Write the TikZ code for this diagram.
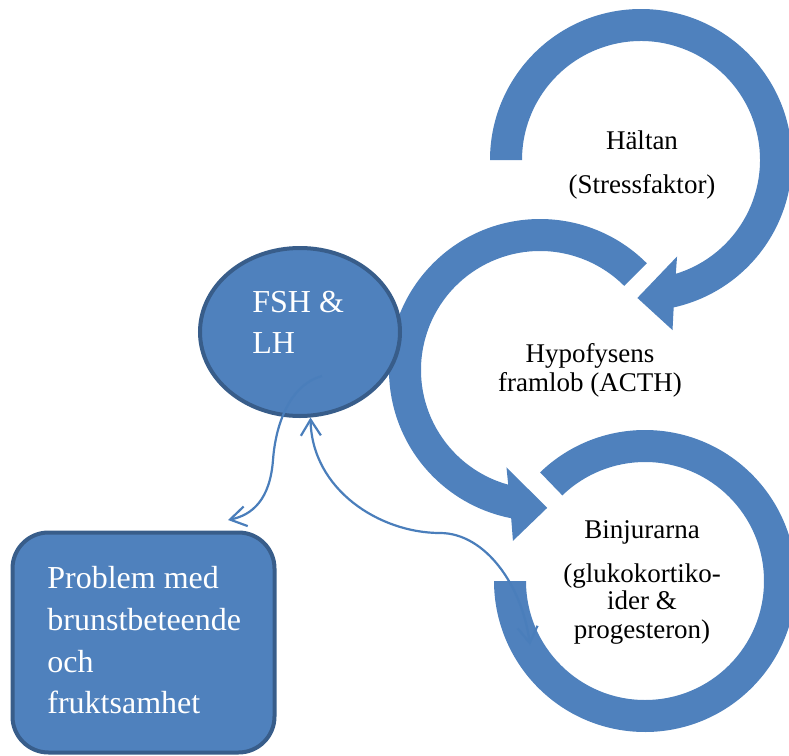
\documentclass[tikz,border=0pt]{standalone}
\usepackage{fontspec}
\setmainfont{Liberation Serif}
\usetikzlibrary{arrows.meta,shapes.geometric}
\definecolor{ringblue}{RGB}{79,129,189}
\definecolor{edgeblue}{RGB}{56,93,138}
\definecolor{linkblue}{RGB}{74,126,187}
\begin{document}
\begin{tikzpicture}[x=0.5pt,y=0.5pt,
    ring/.style={fill=ringblue},
    ringtext/.style={anchor=base,inner sep=0pt,font=\fontsize{13.5}{16}\selectfont},
    whitetext/.style={anchor=base west,inner sep=0pt,text=white,font=\fontsize{16}{19}\selectfont},
    hormone/.style={ellipse,draw=edgeblue,line width=2pt,fill=ringblue,minimum width=100pt,minimum height=84pt,inner sep=0pt},
    effect/.style={rectangle,rounded corners=18pt,draw=edgeblue,line width=2pt,fill=ringblue,minimum width=131pt,minimum height=110pt},
    link/.style={draw=linkblue,line width=1.1pt},
    >={Straight Barb[length=8pt,width=10pt]}]
  \useasboundingbox (0,0) rectangle (789,-756);
  \clip (0,0) rectangle (789,-756);

  % the three circular arrows
  \fill[ring,shift={(641,-160)}] (180:151) arc[start angle=180,end angle=-77.5,radius=151]
    -- (-79.5:173) -- (-91.5:138) -- (-69.5:103) -- (-73:119)
    arc[start angle=-73,end angle=180,radius=119] -- cycle;
  \fill[ring,shift={(540,-370)}] (45:151) arc[start angle=45,end angle=259,radius=151]
    -- (261:173) -- (273:138) -- (251:103) -- (254.5:119)
    arc[start angle=254.5,end angle=45,radius=119] -- cycle;
  \fill[ring,shift={(645,-581)}] (134:151) arc[start angle=134,end angle=-180,radius=151]
    -- (180:119) arc[start angle=-180,end angle=134,radius=119] -- cycle;

  \node[ringtext] (hal1) at (642,-149) {Hältan};
  \node[ringtext] (hal2) at (642,-193) {(Stressfaktor)};
  \node[ringtext] (hyp1) at (590,-362) {Hypofysens};
  \node[ringtext] (hyp2) at (590,-391) {framlob (ACTH)};
  \node[ringtext] (bin1) at (642,-538) {Binjurarna};
  \node[ringtext] (bin2) at (642,-582) {(glukokortiko-};
  \node[ringtext] (bin3) at (642,-609) {ider \&};
  \node[ringtext] (bin4) at (642,-638) {progesteron)};

  % hormones and the effect
  \node[hormone] (fsh) at (300,-332) {};
  \node[whitetext] (fsh1) at (252,-312) {FSH \&};
  \node[whitetext] (fsh2) at (252,-353) {LH};
  \node[effect] (prob) at (143.5,-642.5) {};
  \node[whitetext] (prob1) at (47,-588) {Problem med};
  \node[whitetext] (prob2) at (47,-630) {brunstbeteende};
  \node[whitetext] (prob3) at (47,-672) {och};
  \node[whitetext] (prob4) at (47,-713) {fruktsamhet};

  \coordinate (fshin) at (322,-376);
  \coordinate (probin) at (228,-520);
  \coordinate (binin) at (530,-645);
  \draw[link,->] (fshin) .. controls (292,-384) and (276,-420) .. (273,-460)
    .. controls (270,-500) and (252,-515) .. (probin);
  \draw[link,<->] (fsh.-83) .. controls (312,-490) and (380,-533) .. (440,-533)
    .. controls (485,-533) and (522,-585) .. (binin);
\end{tikzpicture}
\end{document}
